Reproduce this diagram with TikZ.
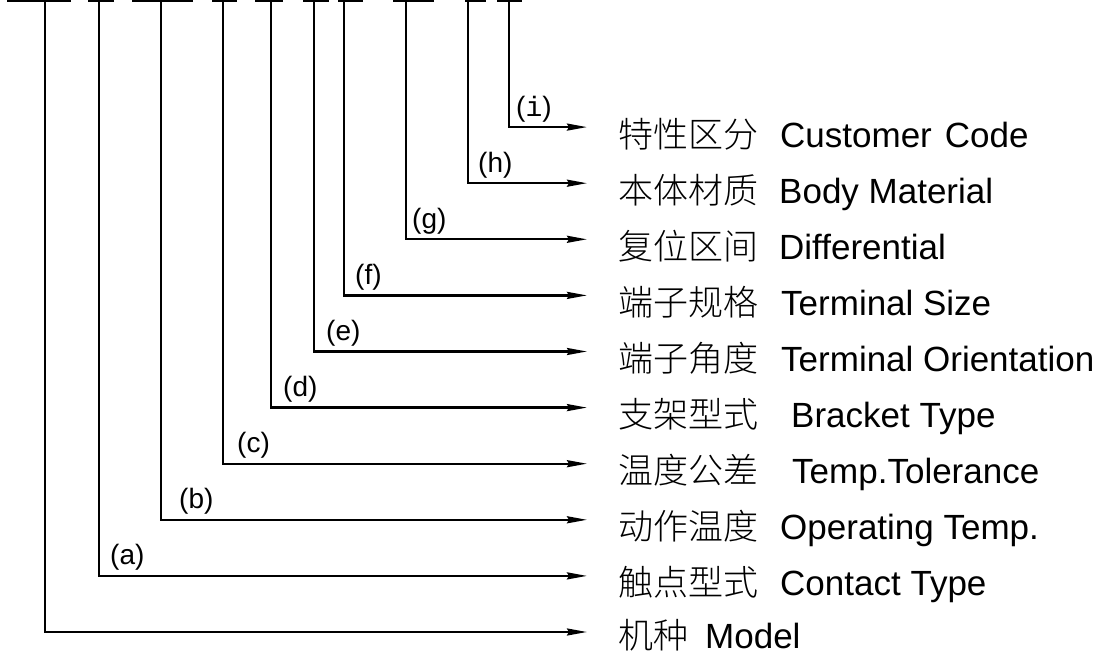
\documentclass[tikz,border=0pt]{standalone}
\usepackage{fontspec}
\setmainfont{Liberation Sans}
\newfontfamily\cjk{Noto Sans CJK SC}[UprightFont=* Light]
\newfontfamily\monoi{Liberation Mono}
\usetikzlibrary{arrows.meta}
\begin{document}
\begin{tikzpicture}[x=1pt,y=1pt,
  conn/.style={line width=2.3pt,-{Stealth[length=20pt,width=7pt,inset=2pt]}},
  topbar/.style={line width=4pt},
  rowtext/.style={anchor=base west,inner sep=0pt,font=\fontsize{35}{42}\selectfont},
  lab/.style={anchor=base west,inner sep=0pt,font=\fontsize{28}{34}\selectfont}]
\useasboundingbox (0,0) rectangle (1104,654);
% top bars
\foreach \p/\q in {7/71,88/114,132/193,212/237,255/283,303/329,338/363,393/434,465/486,497/522}
  \draw[topbar] (\p,654) -- (\q,654);
% tops of the leaders
\coordinate (tM) at (45,654);
\coordinate (tA) at (99,654);
\coordinate (tB) at (161,654);
\coordinate (tC) at (223,654);
\coordinate (tD) at (271,654);
\coordinate (tE) at (314,654);
\coordinate (tF) at (344,654);
\coordinate (tG) at (406,654);
\coordinate (tH) at (468,654);
\coordinate (tI) at (509,654);
% row texts (baseline = arrow - 20)
\node[rowtext] (rI) at (618,506.9) {{\cjk 特性区分}\hspace{22pt}Customer\hspace{13pt}Code};
\node[rowtext] (rH) at (618,450.8) {{\cjk 本体材质}\hspace{21pt}Body Material};
\node[rowtext] (rG) at (618,394.7) {{\cjk 复位区间}\hspace{21pt}Differential};
\node[rowtext] (rF) at (618,338.6) {{\cjk 端子规格}\hspace{23pt}Terminal Size};
\node[rowtext] (rE) at (618,282.5) {{\cjk 端子角度}\hspace{23pt}Terminal Orientation};
\node[rowtext] (rD) at (618,226.4) {{\cjk 支架型式}\hspace{33pt}Bracket Type};
\node[rowtext] (rC) at (618,170.3) {{\cjk 温度公差}\hspace{34pt}Temp.Tolerance};
\node[rowtext] (rB) at (618,114.2) {{\cjk 动作温度}\hspace{22pt}Operating Temp.};
\node[rowtext] (rA) at (618,58.1) {{\cjk 触点型式}\hspace{22pt}Contact Type};
\node[rowtext] (rM) at (618,5.5) {{\cjk 机种}\hspace{17pt}Model};
% connectors
\foreach \n in {A,B,C,D,E,F,G,H,I}
  \draw[conn] (t\n) |- ([shift={(-31pt,20pt)}]r\n.base west);
\draw[conn] (tM) |- ([shift={(-31pt,16.5pt)}]rM.base west);
% letter labels (baseline = arrow + 11)
\node[lab] (lA) at (110,89.1) {(a)};
\node[lab] (lB) at (179,145.2) {(b)};
\node[lab] (lC) at (237,201.3) {(c)};
\node[lab] (lD) at (283,257.4) {(d)};
\node[lab] (lE) at (326,313.5) {(e)};
\node[lab] (lF) at (355,369.6) {(f)};
\node[lab] (lG) at (412,425.7) {(g)};
\node[lab] (lH) at (478,481.8) {(h)};
\node[lab] (lI) at (516,537.9) {({\monoi i})};
\end{tikzpicture}
\end{document}
